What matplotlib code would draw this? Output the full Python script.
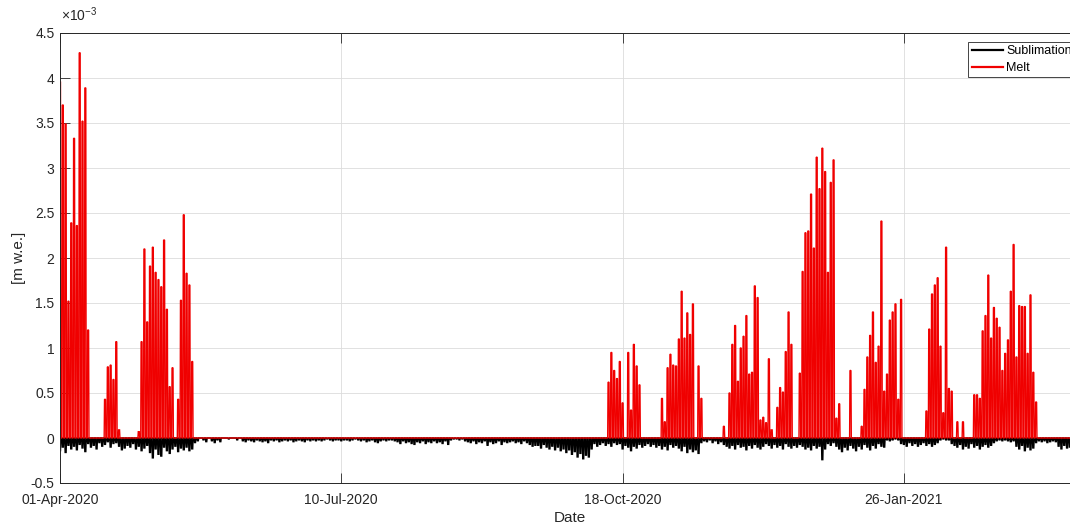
import numpy as np
import matplotlib
matplotlib.use("Agg")
import matplotlib.pyplot as plt

plt.rcParams['font.family'] = ['Liberation Sans', 'DejaVu Sans']
plt.rcParams['mathtext.fontset'] = 'custom'
plt.rcParams['mathtext.rm'] = 'Liberation Sans'
plt.rcParams['mathtext.it'] = 'Liberation Sans:italic'

# ---------------- data (values in units of 1e-3 m w.e.) ----------------
n_days = 365  # daily cycles starting 01-Apr-2020
tick_days = [0, 100, 200, 300]
tick_labels = ['01-Apr-2020', '10-Jul-2020', '18-Oct-2020', '26-Jan-2021']
ytick_values = [-0.5, 0, 0.5, 1, 1.5, 2, 2.5, 3, 3.5, 4, 4.5]
ytick_labels = ['-0.5', '0', '0.5', '1', '1.5', '2', '2.5', '3', '3.5', '4', '4.5']

melt_days = [0, 1, 2, 3, 4, 5, 6, 7, 8, 9, 10,
             16, 17, 18, 19, 20, 21,
             28, 29, 30, 31, 32, 33, 34, 35, 36, 37, 38, 39, 40,
             42, 43, 44, 45, 46, 47,
             195, 196, 197, 198, 199, 200,
             202, 203, 204, 205, 206,
             214, 215, 216, 217, 218, 219, 220, 221, 222, 223, 224, 225,
             227, 228,
             236,
             238, 239, 240, 241, 242, 243, 244, 245, 246, 247, 248, 249, 250, 251, 252, 253,
             255, 256, 257, 258, 259, 260,
             263, 264, 265, 266, 267, 268, 269, 270, 271, 272, 273, 274, 275, 276, 277,
             281,
             285, 286, 287, 288, 289, 290, 291, 292, 293, 294, 295, 296, 297, 298, 299,
             308, 309, 310, 311, 312, 313, 314, 315, 316, 317,
             319, 321,
             325, 326, 327, 328, 329, 330, 331, 332, 333, 334, 335, 336, 337, 338, 339,
             340, 341, 342, 343, 344, 345, 346, 347]

melt_peak = [3.96, 3.70, 3.49, 1.52, 2.39, 3.33, 2.36, 4.28, 3.52, 3.89, 1.20,
             0.43, 0.79, 0.81, 0.65, 1.07, 0.09,
             0.07, 1.07, 2.10, 1.29, 1.91, 2.12, 1.84, 1.76, 1.68, 2.20, 1.43, 0.57, 0.78,
             0.43, 1.53, 2.48, 1.83, 1.70, 0.85,
             0.62, 0.95, 0.75, 0.66, 0.85, 0.39,
             0.95, 0.31, 1.04, 0.80, 0.59,
             0.44, 0.18, 0.78, 0.93, 0.81, 0.80, 1.10, 1.63, 1.11, 1.39, 1.15, 1.49,
             0.80, 0.44,
             0.13,
             0.50, 1.04, 1.25, 0.63, 1.00, 1.13, 1.36, 0.71, 0.73, 1.69, 1.56, 0.20, 0.23, 0.17, 0.88, 0.09,
             0.34, 0.56, 0.51, 0.96, 1.40, 1.04,
             0.72, 1.85, 2.28, 2.30, 2.71, 2.11, 3.12, 2.77, 3.22, 2.96, 1.84, 2.84, 3.09, 0.22, 0.38,
             0.75,
             0.13, 0.54, 0.90, 1.14, 1.40, 0.84, 1.02, 2.41, 0.52, 0.71, 1.31, 1.40, 1.49, 0.43, 1.54,
             0.30, 1.21, 1.60, 1.70, 1.78, 1.02, 0.28, 2.12, 0.55, 0.52,
             0.18, 0.18,
             0.48, 0.48, 0.44, 1.19, 1.36, 1.81, 1.11, 1.45, 1.33, 1.23, 0.75, 0.94, 1.09, 1.63, 2.15,
             0.90, 1.47, 1.46, 1.46, 0.94, 1.59, 0.73, 0.40]

sublimation = [
    -0.14, -0.10, -0.16, -0.08, -0.12, -0.09, -0.13, -0.07, -0.11, -0.15,
    -0.06, -0.10, -0.08, -0.12, -0.05, -0.09, -0.07, -0.04, -0.10, -0.06,
    -0.05, -0.09, -0.13, -0.11, -0.08, -0.10, -0.06, -0.12, -0.09, -0.14,
    -0.11, -0.08, -0.16, -0.22, -0.12, -0.18, -0.20, -0.10, -0.14, -0.17,
    -0.12, -0.09, -0.15, -0.11, -0.13, -0.10, -0.14, -0.12, -0.05, -0.03,
    0.0, -0.02, -0.04, 0.0, -0.03, -0.05, -0.02, -0.04, 0.0, 0.0,
    -0.01, 0.0, 0.0, -0.02, 0.0, -0.03, -0.04, -0.02, -0.03, -0.04,
    -0.02, -0.03, -0.04, -0.03, -0.05, -0.02, -0.03, -0.02, -0.04, -0.03,
    -0.02, -0.03, -0.02, -0.04, -0.03, -0.02, -0.03, -0.04, -0.02, -0.03,
    -0.02, -0.03, -0.02, -0.03, -0.02, -0.01, -0.02, -0.03, -0.02, -0.02,
    -0.03, -0.02, -0.02, -0.03, -0.02, -0.01, -0.02, -0.03, -0.02, -0.04,
    -0.03, -0.02, -0.04, -0.05, -0.03, -0.02, -0.03, -0.02, -0.02, -0.03,
    -0.04, -0.06, -0.03, -0.05, -0.04, -0.06, -0.07, -0.04, -0.05, -0.03,
    -0.06, -0.04, -0.05, -0.03, -0.05, -0.04, -0.06, -0.03, -0.07, -0.02,
    -0.01, -0.01, -0.02, -0.01, -0.03, -0.04, -0.05, -0.03, -0.06, -0.04,
    -0.05, -0.03, -0.08, -0.04, -0.06, -0.05, -0.03, -0.07, -0.04, -0.05,
    -0.04, -0.03, -0.05, -0.04, -0.06, -0.03, -0.05, -0.07, -0.09, -0.08,
    -0.08, -0.11, -0.07, -0.10, -0.12, -0.09, -0.13, -0.10, -0.14, -0.12,
    -0.16, -0.13, -0.18, -0.15, -0.21, -0.17, -0.23, -0.19, -0.21, -0.12,
    -0.06, -0.09, -0.07, -0.05, -0.08, -0.06, -0.09, -0.05, -0.07, -0.06,
    -0.12, -0.08, -0.10, -0.14, -0.09, -0.11, -0.07, -0.10, -0.08, -0.06,
    -0.09, -0.07, -0.10, -0.08, -0.12, -0.09, -0.13, -0.07, -0.10, -0.08,
    -0.11, -0.14, -0.09, -0.16, -0.12, -0.15, -0.13, -0.17, -0.05, -0.03,
    -0.04, -0.02, -0.05, -0.03, -0.06, -0.04, -0.07, -0.09, -0.11, -0.08,
    -0.12, -0.07, -0.10, -0.09, -0.13, -0.08, -0.11, -0.07, -0.10, -0.12,
    -0.09, -0.06, -0.08, -0.11, -0.07, -0.10, -0.08, -0.12, -0.06, -0.09,
    -0.11, -0.08, -0.10, -0.07, -0.09, -0.12, -0.10, -0.13, -0.08, -0.11,
    -0.09, -0.24, -0.12, -0.06, -0.08, -0.05, -0.09, -0.12, -0.15, -0.10,
    -0.13, -0.08, -0.11, -0.14, -0.09, -0.12, -0.07, -0.10, -0.13, -0.08,
    -0.11, -0.06, -0.09, -0.10, -0.02, -0.03, -0.02, -0.01, -0.02, -0.06,
    -0.07, -0.09, -0.05, -0.08, -0.06, -0.09, -0.07, -0.05, -0.08, -0.06,
    -0.09, -0.07, -0.05, -0.02, -0.01, -0.02, -0.02, -0.06, -0.08, -0.10,
    -0.07, -0.12, -0.09, -0.11, -0.06, -0.10, -0.08, -0.12, -0.09, -0.07,
    -0.10, -0.08, -0.05, -0.03, -0.02, -0.03, -0.02, -0.03, -0.04, -0.03,
    -0.09, -0.12, -0.08, -0.14, -0.10, -0.13, -0.11, -0.05, -0.03, -0.04,
    -0.03, -0.05, -0.04, -0.03, -0.04, -0.09, -0.12, -0.08, -0.11, -0.10,
    -0.09, -0.12, -0.08, -0.10, -0.07]

# ---------------- build daily-cycle traces ----------------
days = np.arange(n_days)
melt = np.zeros(n_days)
melt[np.array(melt_days)] = np.array(melt_peak)
subl = np.array(sublimation)

cyc_dx = np.array([-0.3, -0.17, 0.17, 0.3])
cyc_fr = np.array([0.0, 1.0, 1.0, 0.0])
sub_dx = np.array([-0.3, -0.15, 0.15, 0.3])

x_m = (days[:, None] + cyc_dx[None, :]).ravel()
y_m = (melt[:, None] * cyc_fr[None, :]).ravel()
x_s = (days[:, None] + sub_dx[None, :]).ravel()
y_s = (subl[:, None] * cyc_fr[None, :]).ravel()

# ---------------- figure ----------------
W, H = 1070, 528
fig = plt.figure(figsize=(W / 100, H / 100), dpi=100)
ax_left, ax_top, ax_bottom = 60, 33, 483
px_per_day = 2.813
ax_w = n_days * px_per_day
ax = fig.add_axes([ax_left / W, (H - ax_bottom) / H, ax_w / W, (ax_bottom - ax_top) / H])

dark = '#262626'
ax.plot(x_s, y_s, color='black', lw=1.1, label='Sublimation', solid_joinstyle='miter')
ax.plot(x_m, y_m, color='#f00000', lw=1.0, label='Melt', solid_joinstyle='miter')

ax.set_xlim(0, n_days)
ax.set_ylim(-0.5, 4.5)
ax.set_xticks(tick_days)
ax.set_xticklabels(tick_labels)
ax.set_yticks(ytick_values)
ax.set_yticklabels(ytick_labels)

ax.grid(True, color='#dcdcdc', lw=0.6)
ax.set_axisbelow(True)
for s in ax.spines.values():
    s.set_color(dark)
    s.set_linewidth(0.7)
ax.tick_params(direction='in', length=7, width=0.6, top=True, right=True,
               colors=dark, labelsize=10)
ax.tick_params(axis='x', pad=7)
ax.tick_params(axis='y', pad=4)

ax.set_xlabel('Date', fontsize=11, color=dark)
ax.set_ylabel('[m w.e.]', fontsize=11, color=dark)
ax.xaxis.set_label_coords((570 - ax_left) / ax_w, -(511 - ax_bottom) / (ax_bottom - ax_top))
ax.yaxis.set_label_coords(-(60 - 26) / ax_w, 0.5)

ax.text(1 / ax_w, 1 + 9 / (ax_bottom - ax_top), r'$\times10^{-3}$', transform=ax.transAxes,
        ha='left', va='bottom', fontsize=10, color=dark)

leg = ax.legend(loc='upper right',
                bbox_to_anchor=(1 - 12 / ax_w, 1 - 9 / (ax_bottom - ax_top)),
                borderaxespad=0, fontsize=9, handlelength=2.5, handletextpad=0.25,
                labelspacing=0.4, borderpad=0.25, fancybox=False, framealpha=1)
leg.get_frame().set_edgecolor(dark)
leg.get_frame().set_linewidth(0.6)
for ln in leg.get_lines():
    ln.set_linewidth(1.6)

fig.savefig('out.png', dpi=100)
